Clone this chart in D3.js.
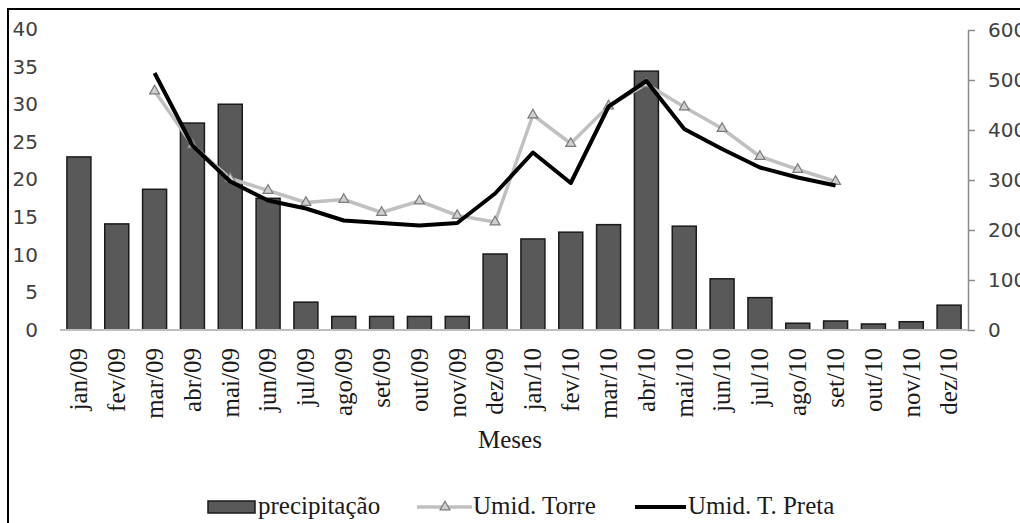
<!DOCTYPE html>
<html>
<head>
<meta charset="utf-8">
<script src="https://cdn.jsdelivr.net/npm/d3@7"></script>
<style>
  html, body { margin: 0; padding: 0; background: #fff; }
  svg { display: block; }
  .serif { font-family: "Liberation Serif", "Times New Roman", Times, "DejaVu Serif", serif; }
  .sans { font-family: "DejaVu Sans", Verdana, sans-serif; }
</style>
</head>
<body>
<svg id="chart" width="1020" height="523"></svg>
<script>
// Monthly categories
const months = ["jan/09","fev/09","mar/09","abr/09","mai/09","jun/09","jul/09","ago/09","set/09","out/09","nov/09","dez/09",
                "jan/10","fev/10","mar/10","abr/10","mai/10","jun/10","jul/10","ago/10","set/10","out/10","nov/10","dez/10"];

// Precipitation (left axis)
const precipitacao = [23.0,14.1,18.7,27.5,30.0,17.5,3.7,1.8,1.8,1.8,1.8,10.1,
                      12.1,13.0,14.0,34.4,13.8,6.8,4.3,0.9,1.2,0.8,1.1,3.3];

// Humidity series (right axis); null = no measurement
const umidTorre = [null,null,478,370,303,279,255,261,235,258,229,216,
                   430,373,448,492,446,403,347,321,297,null,null,null];
const umidPreta = [null,null,514,369,297,259,243,219,214,209,214,273,
                   355,294,447,498,402,362,325,305,289,null,null,null];

// Axis ticks
const leftTicks = [0,5,10,15,20,25,30,35,40];
const rightTicks = [0,100,200,300,400,500,600];

const svg = d3.select("#chart");

// Outer frame
svg.append("rect")
  .attr("x", 8).attr("y", 9)
  .attr("width", 1030).attr("height", 530)
  .attr("fill", "#fff").attr("stroke", "#000").attr("stroke-width", 2);

const x = d3.scaleBand().domain(months).range([60, 968]).paddingInner(0.366).paddingOuter(0.183);
const yL = d3.scaleLinear().domain([0, 40]).range([330, 29]);
const yR = d3.scaleLinear().domain([0, 600]).range([330, 30]);
const cx = m => x(m) + x.bandwidth() / 2;

// Left axis labels (no line, no ticks)
const gL = svg.append("g").attr("transform", "translate(38,0)")
  .call(d3.axisLeft(yL).tickValues(leftTicks).tickSize(0).tickPadding(0));
gL.attr("font-family", null).attr("font-size", null);
gL.select(".domain").remove();
gL.selectAll("text")
  .attr("class", "sans").attr("font-size", 20).attr("fill", "#404040");

// Right axis
const gR = svg.append("g").attr("transform", "translate(968,0)")
  .call(d3.axisRight(yR).tickValues(rightTicks).tickSize(7).tickPadding(13).tickSizeOuter(0));
gR.attr("font-family", null).attr("font-size", null);
gR.select(".domain").attr("stroke", "#8c8c8c").attr("stroke-width", 1.5);
gR.selectAll(".tick line").attr("stroke", "#8c8c8c").attr("stroke-width", 1.5);
gR.selectAll("text")
  .attr("class", "sans").attr("font-size", 20).attr("fill", "#404040");

// Bars
svg.append("g").selectAll("rect")
  .data(months)
  .join("rect")
  .attr("x", d => x(d))
  .attr("y", (d, i) => yL(precipitacao[i]))
  .attr("width", x.bandwidth())
  .attr("height", (d, i) => yL(0) - yL(precipitacao[i]))
  .attr("fill", "#595959")
  .attr("stroke", "#1a1a1a")
  .attr("stroke-width", 1.5);

// Category baseline
svg.append("line")
  .attr("x1", 60).attr("x2", 968)
  .attr("y1", yL(0)).attr("y2", yL(0))
  .attr("stroke", "#bfbfbf").attr("stroke-width", 2);

// X category labels (rotated)
svg.append("g").selectAll("text")
  .data(months)
  .join("text")
  .attr("class", "serif")
  .attr("transform", d => `translate(${cx(d)},348) rotate(-90)`)
  .attr("text-anchor", "end")
  .attr("dy", "0.33em")
  .attr("font-size", 25)
  .attr("fill", "#1a1a1a")
  .text(d => d);

// Axis title
svg.append("text")
  .attr("class", "serif")
  .attr("x", 510).attr("y", 448)
  .attr("text-anchor", "middle")
  .attr("font-size", 25)
  .attr("fill", "#1a1a1a")
  .text("Meses");

const lineGen = d3.line()
  .defined(d => d.v != null)
  .x(d => cx(d.m))
  .y(d => yR(d.v));

const torrePts = months.map((m, i) => ({ m, v: umidTorre[i] }));
const pretaPts = months.map((m, i) => ({ m, v: umidPreta[i] }));

const triangle = d3.symbol().type(d3.symbolTriangle).size(42);

// Umid. Torre line + markers
svg.append("path")
  .datum(torrePts)
  .attr("d", lineGen)
  .attr("fill", "none")
  .attr("stroke", "#c0c0c0")
  .attr("stroke-width", 3.5)
  .attr("stroke-linejoin", "round");
svg.append("g").selectAll("path")
  .data(torrePts.filter(d => d.v != null))
  .join("path")
  .attr("d", triangle)
  .attr("transform", d => `translate(${cx(d.m)},${yR(d.v)})`)
  .attr("fill", "#cfcfcf")
  .attr("stroke", "#7a7a7a")
  .attr("stroke-width", 1.2);

// Umid. T. Preta line
svg.append("path")
  .datum(pretaPts)
  .attr("d", lineGen)
  .attr("fill", "none")
  .attr("stroke", "#000")
  .attr("stroke-width", 4)
  .attr("stroke-linejoin", "round");

// Legend
const lg = svg.append("g");
lg.append("rect")
  .attr("x", 208).attr("y", 501).attr("width", 47).attr("height", 12)
  .attr("fill", "#595959").attr("stroke", "#1a1a1a").attr("stroke-width", 1.5);
lg.append("text").attr("class", "serif").attr("x", 258).attr("y", 514)
  .attr("font-size", 25).attr("fill", "#1a1a1a")
  .text("precipitação");

lg.append("line").attr("x1", 417).attr("x2", 472).attr("y1", 507).attr("y2", 507)
  .attr("stroke", "#c0c0c0").attr("stroke-width", 3.5);
lg.append("path").attr("d", triangle).attr("transform", "translate(445,507)")
  .attr("fill", "#cfcfcf").attr("stroke", "#7a7a7a").attr("stroke-width", 1.2);
lg.append("text").attr("class", "serif").attr("x", 473).attr("y", 514)
  .attr("font-size", 25).attr("fill", "#1a1a1a")
  .text("Umid. Torre");

lg.append("line").attr("x1", 635).attr("x2", 686).attr("y1", 507).attr("y2", 507)
  .attr("stroke", "#000").attr("stroke-width", 4);
lg.append("text").attr("class", "serif").attr("x", 688).attr("y", 514)
  .attr("font-size", 25).attr("fill", "#1a1a1a")
  .text("Umid. T. Preta");
</script>
</body>
</html>
